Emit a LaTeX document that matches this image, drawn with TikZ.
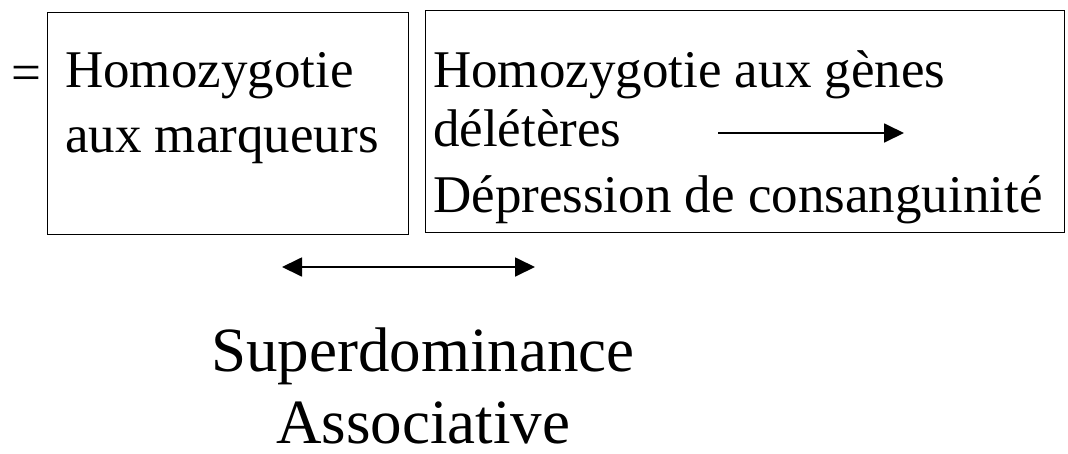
\documentclass[tikz,border=0pt]{standalone}
\usepackage{fontspec}
\setmainfont{Liberation Serif}
\usetikzlibrary{arrows.meta}
\tikzset{
  box/.style={draw, line width=1.3pt, inner sep=0pt},
  toptext/.style={anchor=base west, inner sep=0pt, font=\fontsize{53}{60}\selectfont},
  bigtext/.style={anchor=base, inner sep=0pt, font=\fontsize{63}{70}\selectfont},
  conn/.style={line width=1.8pt, -{Triangle[length=20pt,width=19pt]}},
  dconn/.style={line width=1.8pt, {Triangle[length=20pt,width=19pt]}-{Triangle[length=20pt,width=19pt]}}
}
\begin{document}
\begin{tikzpicture}[x=1pt,y=-1pt]
\useasboundingbox (0,0) rectangle (1068,453);
% boxes
\node[box, minimum width=361pt, minimum height=222pt, anchor=north west] (b1) at (47,12) {};
\node[box, minimum width=639pt, minimum height=222pt, anchor=north west] (b2) at (425,10) {};
% equals sign
\node[anchor=base, inner sep=0pt, font=\fontsize{53}{60}\selectfont] (eq) at (26,90) {=};
% box 1 text
\node[toptext] (t11) at (65,87) {Homozygotie};
\node[toptext] (t12) at (65,152) {aux marqueurs};
% box 2 text
\node[toptext] (t21) at (433,87) {Homozygotie aux gènes};
\node[toptext] (t22) at (433,146) {délétères};
\node[toptext] (t23) at (433,212) {Dépression de consanguinité};
% arrows
\coordinate (a1s) at (718,133);
\coordinate (a1e) at (904,133);
\draw[conn] (a1s) -- (a1e);
\coordinate (a2s) at (282,267);
\coordinate (a2e) at (535,267);
\draw[dconn] (a2s) -- (a2e);
% bottom text
\node[bigtext] (s1) at (423,371) {Superdominance};
\node[bigtext] (s2) at (423,443) {Associative};
\end{tikzpicture}
\end{document}
